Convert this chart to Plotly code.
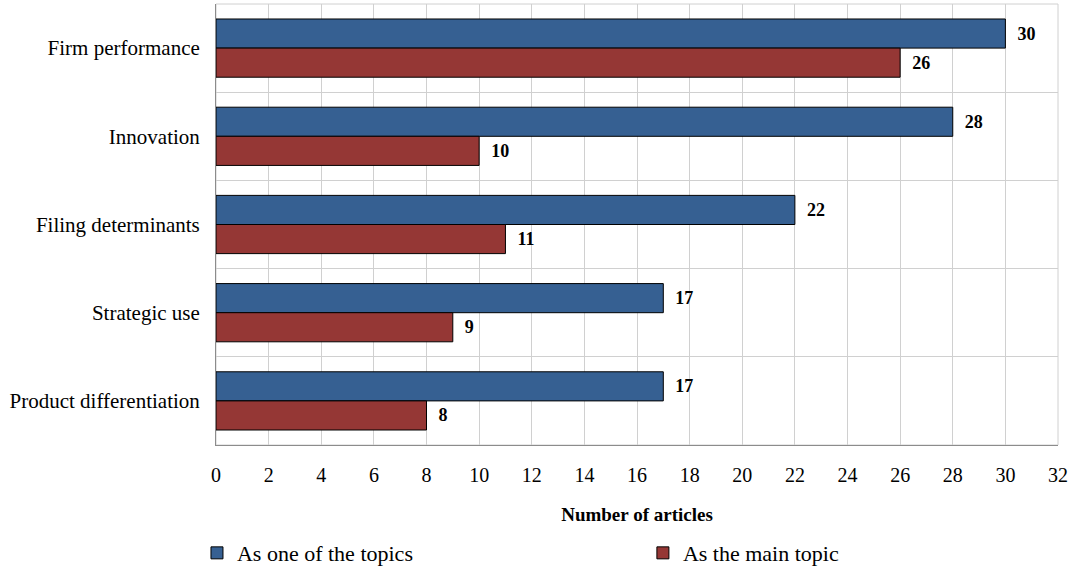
import plotly.graph_objects as go

# Topics, listed top to bottom
topics = ["Firm performance", "Innovation", "Filing determinants",
          "Strategic use", "Product differentiation"]
one_of_topics = [30, 28, 22, 17, 17]
main_topic = [26, 10, 11, 9, 8]
x_ticks = list(range(0, 33, 2))

pos = list(range(len(topics)))
font_family = "Liberation Serif"
label_font = dict(family=font_family, size=18, color="#000000")

fig = go.Figure()
fig.add_trace(go.Bar(
    y=pos, x=one_of_topics, orientation="h", name="As one of the topics",
    marker=dict(color="#366092", line=dict(color="#000000", width=1)),
    texttemplate="\u00a0\u00a0<b>%{x}</b>", textposition="outside",
    textfont=label_font, cliponaxis=False, legend="legend",
))
fig.add_trace(go.Bar(
    y=pos, x=main_topic, orientation="h", name="As the main topic",
    marker=dict(color="#953735", line=dict(color="#000000", width=1)),
    texttemplate="\u00a0\u00a0<b>%{x}</b>", textposition="outside",
    textfont=label_font, cliponaxis=False, legend="legend2",
))

legend_style = dict(orientation="h", yanchor="middle", xanchor="left",
                    font=dict(family=font_family, size=22), itemwidth=30,
                    bgcolor="rgba(0,0,0,0)")

fig.update_layout(
    width=1070, height=572,
    margin=dict(l=216, r=12, t=4, b=127, autoexpand=False),
    barmode="group", bargap=0.34, bargroupgap=0,
    plot_bgcolor="#ffffff", paper_bgcolor="#ffffff",
    font=dict(family=font_family, size=20, color="#000000"),
    xaxis=dict(
        range=[0, 32], tickvals=x_ticks, ticktext=[str(t) for t in x_ticks],
        showgrid=True, gridcolor="#d0d0d0", gridwidth=1,
        showline=True, linecolor="#8c8c8c", linewidth=1,
        zeroline=False, ticks="", ticklabelstandoff=12, automargin=False,
        tickfont=dict(family=font_family, size=20),
        title=dict(text="<b>Number of articles</b>",
                   font=dict(family=font_family, size=19), standoff=22),
    ),
    yaxis=dict(
        range=[4.5, -0.5], tickvals=pos, ticktext=topics,
        showgrid=False, zeroline=False, automargin=False,
        showline=True, linecolor="#8c8c8c", linewidth=1,
        ticks="", ticklabelstandoff=11, tickfont=dict(family=font_family, size=21),
        minor=dict(tickmode="array", tickvals=[p - 0.5 for p in pos] + [len(pos) - 0.5],
                   showgrid=True, gridcolor="#d0d0d0", gridwidth=1, ticks=""),
    ),
    legend=dict(x=-0.0226, y=-0.245, **legend_style),
    legend2=dict(x=0.507, y=-0.245, **legend_style),
    showlegend=True,
)
# light frame around the plot area
fig.add_shape(type="rect", xref="paper", yref="paper", x0=0, x1=1, y0=0, y1=1,
              line=dict(color="#d0d0d0", width=1), layer="below")

fig.write_html("out.html")
